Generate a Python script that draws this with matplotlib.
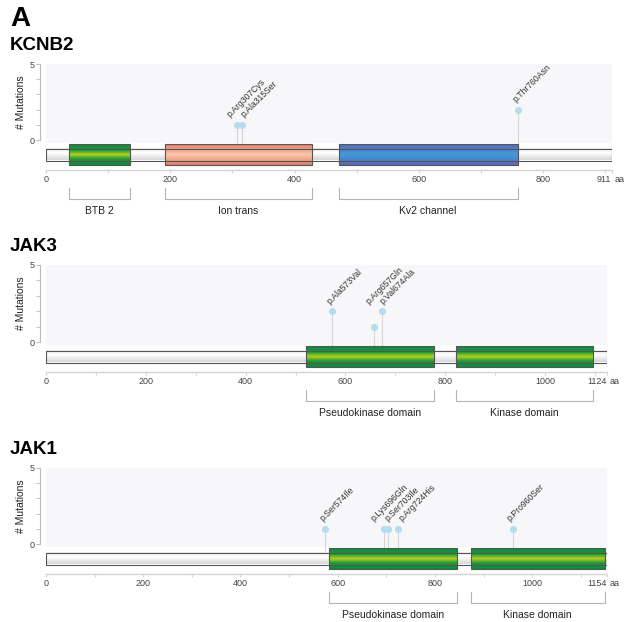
import numpy as np
import matplotlib.pyplot as plt
from matplotlib.colors import LinearSegmentedColormap

plt.rcParams['font.family'] = ['Liberation Sans', 'DejaVu Sans']

W, H = 624, 622

# KCNB2
kcnb2_len = 911
kcnb2_dom_names = ['BTB 2', 'Ion trans', 'Kv2 channel']
kcnb2_dom_start = [37, 192, 471]
kcnb2_dom_end = [136, 428, 759]
kcnb2_dom_kind = ['green', 'salmon', 'blue']
kcnb2_mut_pos = [307, 315, 760]
kcnb2_mut_cnt = [1, 1, 2]
kcnb2_mut_lbl = ['p.Arg307Cys', 'p.Ala315Ser', 'p.Thr760Asn']

# JAK3
jak3_len = 1124
jak3_dom_names = ['Pseudokinase domain', 'Kinase domain']
jak3_dom_start = [520, 822]
jak3_dom_end = [777, 1095]
jak3_dom_kind = ['green', 'green']
jak3_mut_pos = [573, 657, 674]
jak3_mut_cnt = [2, 1, 2]
jak3_mut_lbl = ['p.Ala573Val', 'p.Arg657Gln', 'p.Val674Ala']

# JAK1
jak1_len = 1154
jak1_dom_names = ['Pseudokinase domain', 'Kinase domain']
jak1_dom_start = [583, 874]
jak1_dom_end = [845, 1149]
jak1_dom_kind = ['green', 'green']
jak1_mut_pos = [574, 696, 703, 724, 960]
jak1_mut_cnt = [1, 1, 1, 1, 1]
jak1_mut_lbl = ['p.Ser574Ile', 'p.Lys696Gln', 'p.Ser703Ile', 'p.Arg724His', 'p.Pro960Ser']

gradients = {
    'green': [(0, '#0c8c3d'), (0.28, '#1d973b'), (0.5, '#b5d21e'), (0.72, '#1d973b'), (1, '#0c8c3d')],
    'salmon': [(0, '#e67d66'), (0.5, '#f8c9aa'), (1, '#e67d66')],
    'blue': [(0, '#5d66bf'), (0.5, '#3c9dd8'), (1, '#5d66bf')],
    'backbone': [(0, '#eeeeee'), (0.4, '#ffffff'), (1, '#d6d6d6')],
}

fig = plt.figure(figsize=(W / 100, H / 100), dpi=100)


def bar(ax, s, e, y0, y1, kind):
    cmap = LinearSegmentedColormap.from_list(kind, gradients[kind])
    grad = np.linspace(0, 1, 64).reshape(-1, 1)
    ax.imshow(grad, cmap=cmap, aspect='auto', extent=(s, e, y0, y1),
              interpolation='bilinear', zorder=2, origin='upper')
    ax.add_patch(plt.Rectangle((s, y0), e - s, y1 - y0, fill=False,
                               ec='#555555', lw=0.8, zorder=2.5))


def label_groups(mpos, pxaa, gap=12):
    # mutations closer than `gap` pixels share one label block
    groups, cur = [], [0]
    for i in range(1, len(mpos)):
        if (mpos[i] - mpos[i - 1]) * pxaa < gap:
            cur.append(i)
        else:
            groups.append(cur)
            cur = [i]
    groups.append(cur)
    return groups


def panel(name, x1_px, y_top, y_zero, length, dnames, dstart, dend, dkind,
          mpos, mcnt, mlbl):
    x0_px = 46
    h = 160
    unit = (y_zero - y_top) / 5.0
    ymin = 5 - h / unit
    pxaa = (x1_px - x0_px) / length
    ax = fig.add_axes([x0_px / W, 1 - (y_top + h) / H, (x1_px - x0_px) / W, h / H])

    def d(p):
        return -p / unit

    fig.text(10 / W, 1 - (y_top - 18) / H, name, fontsize=13.5,
             fontweight='bold', va='center', ha='left')

    # background of mutation area
    ax.add_patch(plt.Rectangle((0, d(2.5)), length, 5 - d(2.5),
                               fc='#f7f7f9', ec='none', zorder=0))

    # stems and heads
    ax.vlines(mpos, d(8), mcnt, color='#d6d6d6', lw=0.8, zorder=1)
    ax.scatter(mpos, mcnt, s=26, color='#b7dbef', zorder=3, linewidths=0)
    spacing = 14 / pxaa
    for g in label_groups(mpos, pxaa):
        center = np.mean([mpos[i] for i in g])
        top = max(mcnt[i] for i in g)
        for k, i in enumerate(g):
            xl = center + (k - (len(g) - 1) / 2) * spacing if len(g) > 1 else mpos[i]
            ax.annotate(mlbl[i], (xl, top), xytext=(-0.6, 4),
                        textcoords='offset points', rotation=45,
                        rotation_mode='anchor', ha='left', va='bottom',
                        fontsize=6.2, color='#333333')

    # protein backbone and domains
    bar(ax, 0, length, d(20.5), d(8.5), 'backbone')
    for s, e, k in zip(dstart, dend, dkind):
        bar(ax, s, e, d(25), d(4), k)

    # x axis
    ya = d(29.5)
    ax.plot([0, length], [ya, ya], color='#d4d4d4', lw=1, clip_on=False)
    ticks = list(range(0, length, 100)) + [length]
    ax.vlines(ticks, d(33), ya, color='#d4d4d4', lw=0.8, clip_on=False)
    for t in range(0, length - 60, 200):
        ax.text(t, d(40), str(t), fontsize=6.5, color='#444444',
                ha='center', va='center')
    ax.annotate(str(length), (length, d(40)), xytext=(-0.5, 0),
                textcoords='offset points', fontsize=6.5, color='#444444',
                ha='right', va='center')
    ax.annotate('aa', (length, d(40)), xytext=(2, 0),
                textcoords='offset points', fontsize=6.5, color='#444444',
                ha='left', va='center')

    # domain brackets
    for s, e, n in zip(dstart, dend, dnames):
        ax.plot([s, s, e, e], [d(48), d(59), d(59), d(48)], color='#b4b4b4',
                lw=0.8, clip_on=False)
        ax.text((s + e) / 2, d(71), n, fontsize=7.5, color='#222222',
                ha='center', va='center')

    ax.set_xlim(0, length)
    ax.set_ylim(ymin, 5)
    for sp in ['top', 'right', 'bottom']:
        ax.spines[sp].set_visible(False)
    ax.spines['left'].set_position(('outward', 4))
    ax.spines['left'].set_bounds(0, 5)
    ax.spines['left'].set_color('#bbbbbb')
    ax.spines['left'].set_linewidth(0.8)
    ax.set_xticks([])
    ax.set_yticks([0, 5])
    ax.set_yticks([1, 2, 3, 4], minor=True)
    ax.tick_params(axis='y', which='both', length=3, color='#bbbbbb',
                   labelsize=6.5, labelcolor='#444444', pad=1)
    ax.set_ylabel('# Mutations', fontsize=7.5, color='#222222')
    ax.yaxis.set_label_coords((26 - x0_px) / (x1_px - x0_px),
                              (2.5 - ymin) / (5 - ymin))
    ax.patch.set_visible(False)


fig.text(10 / W, 1 - 19 / H, 'A', fontsize=20, fontweight='bold',
         va='center', ha='left')

panel('KCNB2', 612, 64, 140, kcnb2_len, kcnb2_dom_names, kcnb2_dom_start,
      kcnb2_dom_end, kcnb2_dom_kind, kcnb2_mut_pos, kcnb2_mut_cnt, kcnb2_mut_lbl)
panel('JAK3', 607, 265, 342, jak3_len, jak3_dom_names, jak3_dom_start,
      jak3_dom_end, jak3_dom_kind, jak3_mut_pos, jak3_mut_cnt, jak3_mut_lbl)
panel('JAK1', 607, 468, 544, jak1_len, jak1_dom_names, jak1_dom_start,
      jak1_dom_end, jak1_dom_kind, jak1_mut_pos, jak1_mut_cnt, jak1_mut_lbl)

fig.savefig('out.png', dpi=100)
